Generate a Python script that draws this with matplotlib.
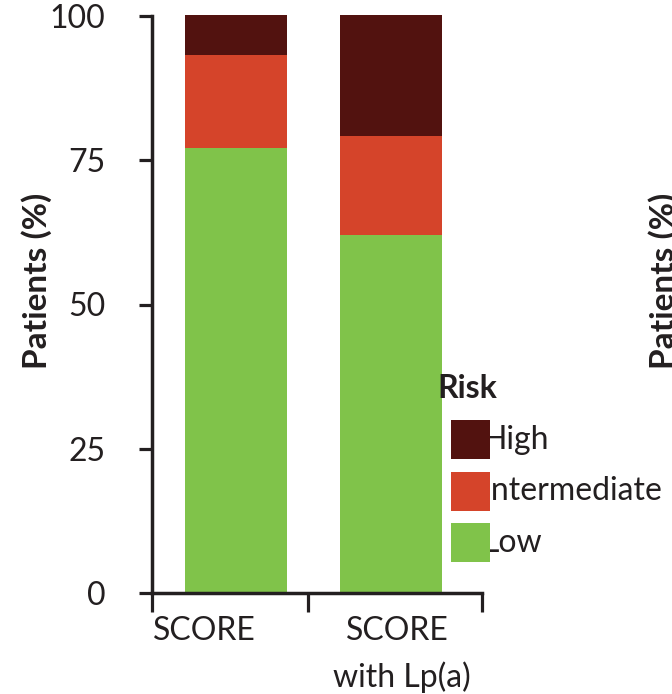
import matplotlib
matplotlib.use("Agg")
import matplotlib.pyplot as plt
from matplotlib.patches import Rectangle
import numpy as np

plt.rcParams["font.family"] = ["Lato", "DejaVu Sans"]

categories = ["SCORE", "SCORE\nwith Lp(a)"]
risk_levels = ["Low", "Intermediate", "High"]
low = [77.1, 62.0]
intermediate = [16.1, 17.2]
high = [7.0, 21.0]

colors = {"Low": "#80C34A", "Intermediate": "#D5442A", "High": "#52120F"}
ink = "#231F20"

W, H = 672, 694
fig = plt.figure(figsize=(W / 100, H / 100), dpi=100)


def px(x, y):
    return x / W, 1 - y / H


ax = fig.add_axes([152 / W, 1 - 593 / H, (482 - 152) / W, (593 - 16) / H])

x = np.arange(len(categories))
bottom = np.zeros(len(categories))
for name, vals in zip(risk_levels, [low, intermediate, high]):
    ax.bar(x, vals, 0.658, bottom=bottom, color=colors[name], clip_on=False, zorder=1)
    bottom += np.array(vals)

ax.set_xlim(-0.542, 1.587)
ax.set_ylim(0, 100)
ax.set_yticks([0, 25, 50, 75, 100])
ax.set_xticks([-0.542, 0.465, 1.587])
ax.set_xticklabels([])
ax.tick_params(axis="y", direction="out", length=9.5, width=2.3, color=ink,
               labelsize=23, pad=24, labelcolor=ink)
ax.tick_params(axis="x", direction="out", length=13.5, width=2.3, color=ink)
for s in ["top", "right"]:
    ax.spines[s].set_visible(False)
for s in ["left", "bottom"]:
    ax.spines[s].set_linewidth(2.5)
    ax.spines[s].set_color(ink)
    ax.spines[s].set_zorder(3)

# category labels
fig.text(*px(204, 640), categories[0], ha="center", va="baseline", fontsize=23, color=ink)
line1, line2 = categories[1].split("\n")
fig.text(*px(397, 640), line1, ha="center", va="baseline", fontsize=23, color=ink)
fig.text(*px(402, 687), line2, ha="center", va="baseline", fontsize=23, color=ink)

# y labels (second one belongs to the neighbouring panel, cut at the edge)
fig.text(*px(37, 281), "Patients (%)", rotation=90, ha="center", va="center",
         fontsize=24, fontweight="bold", color=ink)
fig.text(*px(664, 281), "Patients (%)", rotation=90, ha="center", va="center",
         fontsize=24, fontweight="bold", color=ink)

# legend drawn by hand: boxes sit on top of the labels
fig.text(*px(437, 398), "Risk", ha="left", va="baseline", fontsize=23,
         fontweight="bold", color=ink)
legend_order = ["High", "Intermediate", "Low"]
for i, name in enumerate(legend_order):
    top = 420 + i * 51.5
    x0, y0 = px(451, top + 39)
    fig.add_artist(Rectangle((x0, y0), 39 / W, 39 / H, transform=fig.transFigure,
                             facecolor=colors[name], edgecolor="none", zorder=5))
    fig.text(*px(482, top + 20), name, ha="left", va="center", fontsize=23,
             color=ink, zorder=3)

fig.savefig("out.png", dpi=100)
